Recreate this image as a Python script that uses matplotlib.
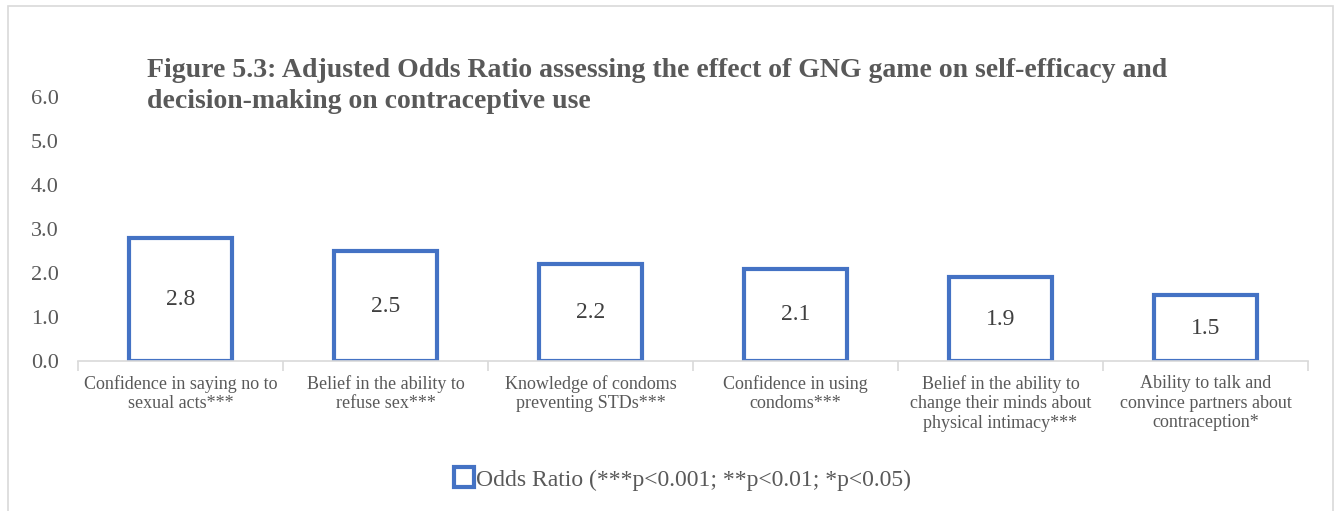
import matplotlib.pyplot as plt
from matplotlib.patches import Rectangle
from matplotlib.lines import Line2D
import numpy as np

categories = [
    'Confidence in saying no to\nsexual acts***',
    'Belief in the ability to\nrefuse sex***',
    'Knowledge of condoms\npreventing STDs***',
    'Confidence in using\ncondoms***',
    'Belief in the ability to\nchange their minds about\nphysical intimacy***',
    'Ability to talk and\nconvince partners about\ncontraception*',
]
odds_ratio = [2.8, 2.5, 2.2, 2.1, 1.9, 1.5]
yticks = [0, 1, 2, 3, 4, 5, 6]

blue = '#4472C4'
grey = '#595959'

plt.rcParams['font.family'] = ['Liberation Serif', 'DejaVu Serif']

fig = plt.figure(figsize=(13.4, 5.11), dpi=100)
ax = fig.add_axes([0.0582, 0.2935, 0.9179, 0.5167])

x = np.arange(len(categories))
bars = ax.bar(x, odds_ratio, width=0.5, facecolor='white', edgecolor=blue,
              linewidth=3.0, label='Odds Ratio (***p<0.001; **p<0.01; *p<0.05)')

for xi, v in zip(x, odds_ratio):
    ax.text(xi, v / 2, f'{v:.1f}', ha='center', va='center', fontsize=17, color='#404040')

ax.set_xlim(-0.5, len(categories) - 0.5)
ax.set_ylim(0, 6)
ax.set_yticks(yticks)
ax.set_yticklabels([f'{t:.1f}' for t in yticks], fontsize=16, color=grey)
ax.tick_params(axis='y', length=0, pad=14)

# category labels between boundary ticks
ax.set_xticks(x)
ax.set_xticklabels(categories, fontsize=13, color=grey, linespacing=1.2)
ax.tick_params(axis='x', which='major', length=0, pad=10)
ax.set_xticks(np.arange(-0.5, len(categories)), minor=True)
ax.tick_params(axis='x', which='minor', length=7, color='#D9D9D9', width=1.2)

for s in ['top', 'right', 'left']:
    ax.spines[s].set_visible(False)
ax.spines['bottom'].set_color('#D9D9D9')
ax.spines['bottom'].set_linewidth(1.2)

fig.text(0.11, 0.85, 'Figure 5.3: Adjusted Odds Ratio assessing the effect of GNG game on self-efficacy and',
         fontsize=20, fontweight='bold', color=grey, va='baseline')
fig.text(0.11, 0.788, 'decision-making on contraceptive use',
         fontsize=20, fontweight='bold', color=grey, va='baseline')

handle = Line2D([], [], marker='s', linestyle='none', markersize=14,
                markerfacecolor='white', markeredgecolor=blue, markeredgewidth=3)
fig.legend([handle], ['Odds Ratio (***p<0.001; **p<0.01; *p<0.05)'],
           loc='center', bbox_to_anchor=(0.509, 0.061), frameon=False,
           fontsize=17, handletextpad=0.05, labelcolor=grey, handlelength=0.9)

fig.patches.append(Rectangle((8 / 1340, -0.05), 1325 / 1340, 1 - 6 / 511 + 0.05,
                             transform=fig.transFigure, fill=False,
                             edgecolor='#D9D9D9', linewidth=1.2, zorder=-1))

fig.savefig('out.png', dpi=100)
